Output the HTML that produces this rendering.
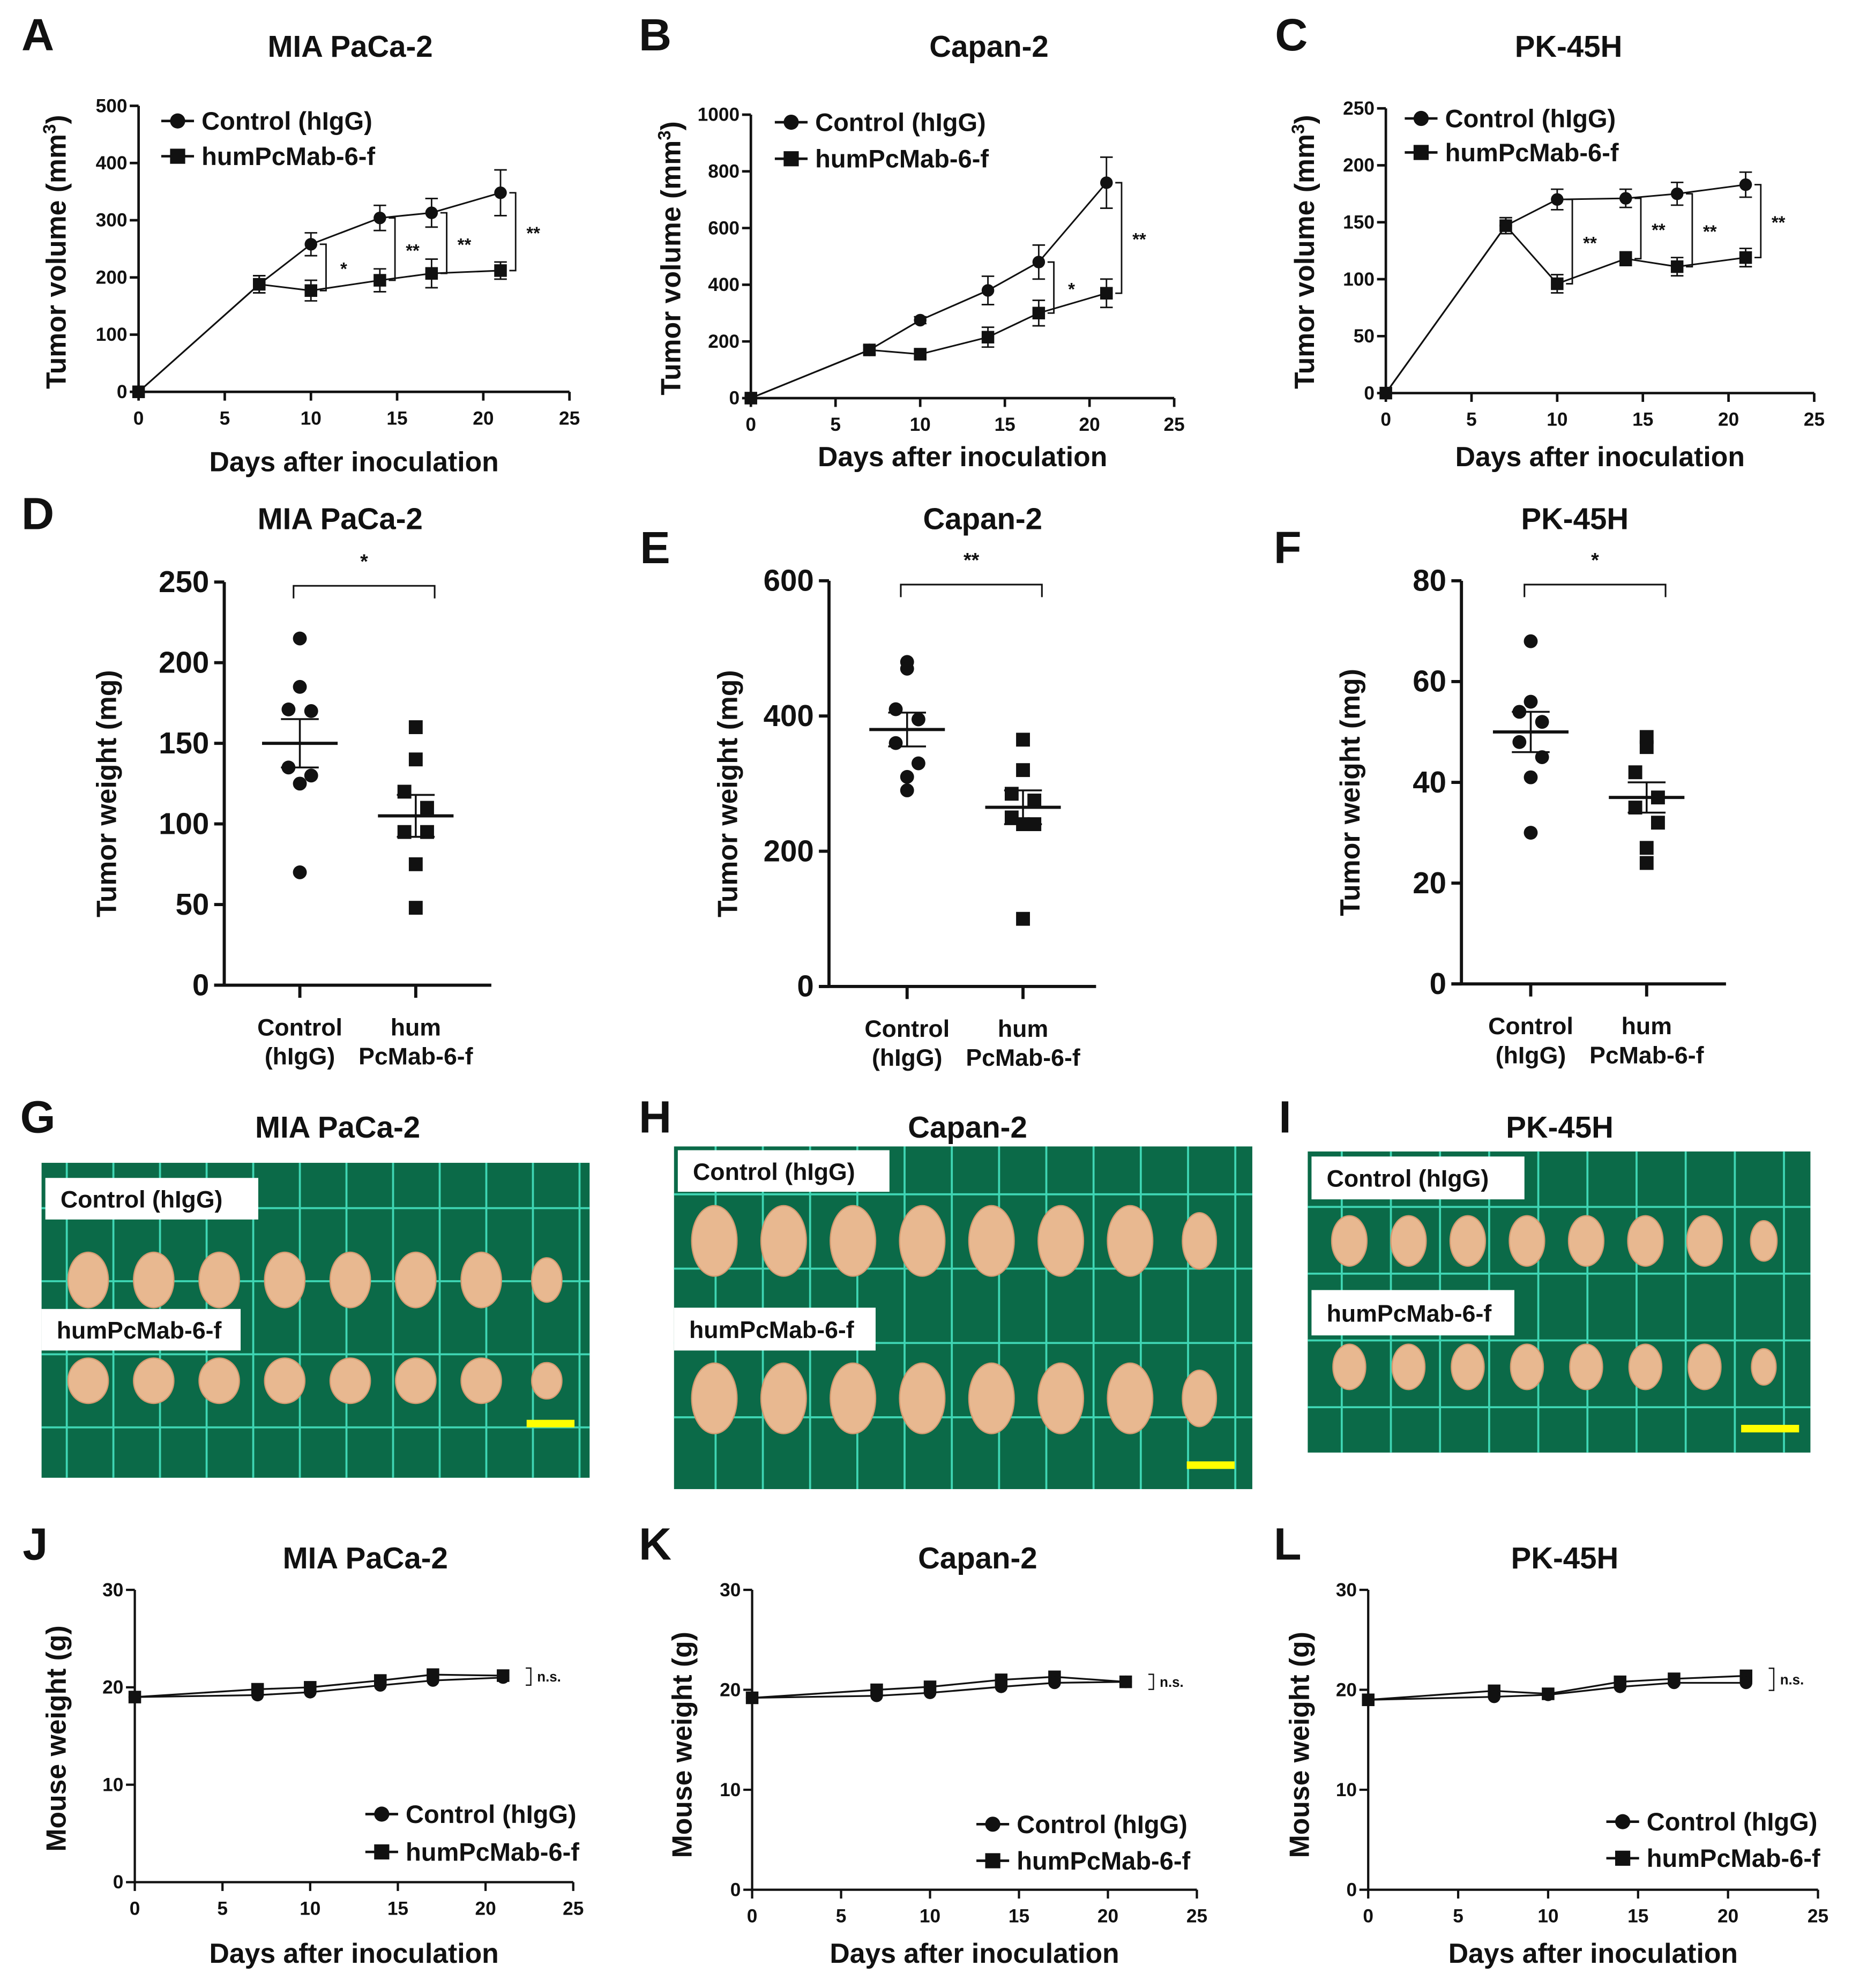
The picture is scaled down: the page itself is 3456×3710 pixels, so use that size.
<!DOCTYPE html>
<html><head><meta charset="utf-8"><style>
html,body{margin:0;padding:0;background:#fff}
svg{display:block}
text{font-family:"Liberation Sans Narrow","Liberation Sans",sans-serif;font-weight:bold;fill:#111}
</style></head><body>
<svg id="fig" xmlns="http://www.w3.org/2000/svg" width="3456" height="3710" viewBox="0 0 1470 1578">
<rect x="0" y="0" width="1470" height="1578" fill="#fff"/>
</svg>
<script>
// ---- data ----
const days = [0, 7, 10, 14, 17, 21];
const volTicksA = [0,100,200,300,400,500];
const volTicksB = [0,200,400,600,800,1000];
const volTicksC = [0,50,100,150,200,250];
const dayTicks = [0,5,10,15,20,25];
const aCtrl = [0,188,258,304,313,348];
const aCtrlErr = [0,15,20,22,25,40];
const aTrt = [0,188,177,195,207,212];
const aTrtErr = [0,15,18,20,25,15];
const aSig = [[10,"*"],[14,"**"],[17,"**"],[21,"**"]];
const bCtrl = [0,170,275,380,480,760];
const bCtrlErr = [0,15,12,50,60,90];
const bTrt = [0,170,155,215,300,370];
const bTrtErr = [0,15,12,35,45,50];
const bSig = [[17,"*"],[21,"**"]];
const cCtrl = [0,147,170,171,175,183];
const cCtrlErr = [0,7,9,8,10,11];
const cTrt = [0,147,96,118,111,119];
const cTrtErr = [0,7,8,6,8,8];
const cSig = [[10,"**"],[14,"**"],[17,"**"],[21,"**"]];
const dCtrl = [215,185,171,170,135,130,125,70];
const dTrt = [160,140,120,110,95,95,75,48];
const dMean = [150,105]; const dSem = [15,13];
const eCtrl = [480,470,410,395,360,330,310,290];
const eTrt = [365,320,285,275,250,240,240,100];
const eMean = [380,265]; const eSem = [25,25];
const fCtrl = [68,56,54,52,48,45,41,30];
const fTrt = [49,47,42,37,35,32,27,24];
const fMean = [50,37]; const fSem = [4,3];
const wTicks = [0,10,20,30];
const jCtrl = [19,19.2,19.5,20.2,20.7,21];
const jTrt = [19,19.8,20,20.7,21.3,21.2];
const kCtrl = [19.2,19.4,19.7,20.3,20.7,20.8];
const kTrt = [19.2,20,20.3,21,21.3,20.8];
const lCtrl = [19,19.3,19.5,20.3,20.7,20.7];
const lTrt = [19,19.9,19.6,20.8,21.1,21.4];

const svg = document.getElementById('fig');
const NS = 'http://www.w3.org/2000/svg';
function mk(tag, at, parent){const e=document.createElementNS(NS,tag);for(const k in at)e.setAttribute(k,at[k]);(parent||svg).appendChild(e);return e;}
function txt(s, x, y, size, anchor, parent, extra){const t=mk('text',Object.assign({x:x,y:y,'font-size':size,'text-anchor':anchor||'middle'},extra||{}),parent);t.textContent=s;return t;}
function grp(name){const g=mk('g',{});return g;}

function letter(s,x,y){const t=txt(s,x,y,36,'middle');}
function title(s,x,y){const t=txt(s,x,y,24,'middle');}

function marker(g,type,x,y,s){
  if(type==='c') return mk('circle',{cx:x,cy:y,r:s,fill:'#111'},g);
  return mk('rect',{x:x-s,y:y-s,width:2*s,height:2*s,fill:'#111'},g);
}

function lineChart(o){
  const g=grp(o.name);
  const X=v=>o.x0+(v/25)*(o.x1-o.x0);
  const Y=v=>o.y0-(v/o.ymax)*(o.y0-o.y1);
  const aw=o.aw||2;
  mk('line',{x1:o.x0,y1:o.y0,x2:o.x0,y2:o.y1,stroke:'#111','stroke-width':aw},g);
  mk('line',{x1:o.x0,y1:o.y0,x2:o.x1,y2:o.y0,stroke:'#111','stroke-width':aw},g);
  o.yt.forEach(v=>{mk('line',{x1:o.x0-7,y1:Y(v),x2:o.x0,y2:Y(v),stroke:'#111','stroke-width':aw},g);
    const t=txt(String(v),o.x0-9,Y(v)+5,o.tfs||15,'end',g);});
  dayTicks.forEach(v=>{mk('line',{x1:X(v),y1:o.y0,x2:X(v),y2:o.y0+7,stroke:'#111','stroke-width':aw},g);
    const t=txt(String(v),X(v),o.y0+26,o.tfs||15,'middle',g);});
  const xl=txt('Days after inoculation',(o.x0+o.x1)/2,o.xly,22,'middle',g);
  const yl=txt(o.ylab,0,0,22,'middle',g,{transform:`translate(${o.ylx},${o.yly}) rotate(-90)`});
  if(o.sup){yl.textContent='';yl.appendChild(document.createTextNode(o.ylab));const ts=document.createElementNS(NS,'tspan');ts.setAttribute('dy','-8');ts.setAttribute('font-size','14');ts.textContent='3';yl.appendChild(ts);const t2=document.createElementNS(NS,'tspan');t2.setAttribute('dy','8');t2.textContent=')';yl.appendChild(t2);}
  [[o.trt,o.trtE,'s'],[o.ctrl,o.ctrlE,'c']].forEach(([d,e,type])=>{
    const p=mk('polyline',{points:days.map((v,i)=>X(v)+','+Y(d[i])).join(' '),fill:'none',stroke:'#111','stroke-width':o.lw||1.3},g);
    
    days.forEach((v,i)=>{
      if(e&&e[i]){mk('path',{d:`M${X(v)},${Y(d[i]-e[i])}V${Y(d[i]+e[i])}M${X(v)-5},${Y(d[i]-e[i])}h10M${X(v)-5},${Y(d[i]+e[i])}h10`,stroke:'#111','stroke-width':1.2,fill:'none'},g);}
      const m=marker(g,type,X(v),Y(d[i]),o.ms||5);
      
      
    });
  });
  (o.sig||[]).forEach(([dd,lab])=>{const i=days.indexOf(dd);const bx=X(dd)+12;
    const ya=Y(o.ctrl[i]+(dd===21?0:0)),yb=Y(o.trt[i]);
    mk('path',{d:`M${bx-5},${ya}H${bx}V${yb}H${bx-5}`,stroke:'#111','stroke-width':1.2,fill:'none'},g);
    const t=txt(lab,bx+14,(ya+yb)/2+6,14,'middle',g);});
  if(o.ns){const i=5;const bx=X(21)+18;const ya=Y(o.trt[i])-6,yb=Y(o.ctrl[i])+6;
    mk('path',{d:`M${bx},${ya}H${bx+4}V${yb}H${bx}`,stroke:'#111','stroke-width':1,fill:'none'},g);
    const t=txt('n.s.',bx+9,(ya+yb)/2+4,11,'start',g);}
  // legend
  const L=o.leg;
  [['c','Control (hIgG)',L.y1],['s','humPcMab-6-f',L.y2]].forEach(([type,s,yy])=>{
    const lg=mk('g',{},g);
    mk('line',{x1:L.x,y1:yy,x2:L.x+26,y2:yy,stroke:'#111','stroke-width':2},lg);
    marker(lg,type,L.x+13,yy,6);
    txt(s,L.x+32,yy+7,L.fs||20,'start',lg);
  });
}

function scatter(o){
  const g=grp(o.name);
  const Y=v=>o.y0-(v/o.ymax)*(o.y0-o.y1);
  mk('line',{x1:o.x0,y1:o.y0+1,x2:o.x0,y2:o.y1,stroke:'#111','stroke-width':2.5},g);
  mk('line',{x1:o.x0-8,y1:o.y0,x2:o.x1,y2:o.y0,stroke:'#111','stroke-width':2.5},g);
  o.yt.forEach(v=>{mk('line',{x1:o.x0-8,y1:Y(v),x2:o.x0,y2:Y(v),stroke:'#111','stroke-width':2.5},g);
    const t=txt(String(v),o.x0-12,Y(v)+8,24,'end',g);});
  const yl=txt('Tumor weight (mg)',0,0,22,'middle',g,{transform:`translate(${o.ylx},${(o.y0+o.y1)/2+8}) rotate(-90)`});
  const jit=[0,0,-10,10,-10,10,0,0];
  [[o.ctrl,o.cx,'c',0],[o.trt,o.tx,'s',1]].forEach(([d,cx,type,k])=>{
    mk('line',{x1:cx,y1:o.y0,x2:cx,y2:o.y0+10,stroke:'#111','stroke-width':2.5},g);
    d.forEach((v,i)=>{const m=marker(g,type,cx+jit[i]*0.9,Y(v),5.5);});
    const mn=o.mean[k],se=o.sem[k];
    mk('line',{x1:cx-30,y1:Y(mn),x2:cx+30,y2:Y(mn),stroke:'#111','stroke-width':2.5},g);
    mk('path',{d:`M${cx},${Y(mn-se)}V${Y(mn+se)}M${cx-15},${Y(mn-se)}h30M${cx-15},${Y(mn+se)}h30`,stroke:'#111','stroke-width':1.5,fill:'none'},g);
  });
  const by=o.y1+3;
  mk('path',{d:`M${o.cx-5},${by+10}V${by}H${o.tx+15}V${by+10}`,stroke:'#111','stroke-width':1.3,fill:'none'},g);
  const st=txt(o.sig,(o.cx+o.tx)/2+5,by-14,16,'middle',g);
  [['Control',o.cx,'(hIgG)'],['hum',o.tx,'PcMab-6-f']].forEach(([a,x,b])=>{
    const t1=txt(a,x,o.y0+40,19,'middle',g);
    const t2=txt(b,x,o.y0+63,19,'middle',g);
  });
}

function photo(o){
  const g=grp(o.name);
  mk('rect',{x:o.x,y:o.y,width:o.w,height:o.h,fill:'#0b6a48'},g);
  for(let x=o.gx;x<o.x+o.w;x+=o.sx) mk('line',{x1:x,y1:o.y,x2:x,y2:o.y+o.h,stroke:'#3fd6b4','stroke-width':1.6},g);
  for(let y=o.gy;y<o.y+o.h;y+=o.sy) mk('line',{x1:o.x,y1:y,x2:o.x+o.w,y2:y,stroke:'#3fd6b4','stroke-width':1.6},g);
  o.rows.forEach(r=>{for(let i=0;i<8;i++){const cx=o.tx0+i*o.tdx;const e=mk('ellipse',{cx:cx,cy:r.y,rx:r.rx*(i===7?0.75:1),ry:r.ry*(i===7?0.8:1),fill:'#e8b890',stroke:'#d49a70','stroke-width':1},g);}});
  o.boxes.forEach(b=>{const bg=mk('g',{},g);
    mk('rect',{x:b.x,y:b.y,width:b.w,height:b.h,fill:'#fff'},bg);txt(b.t,b.x+12,b.y+b.h/2+7,19,'start',bg);});
  mk('rect',{x:o.bar[0],y:o.bar[1],width:o.bar[2],height:6,fill:'#ffff00'},g);
}

// Row 1
letter('A',30,40);title('MIA PaCa-2',278,45);
lineChart({name:'chart-a',x0:110,x1:452,y0:311,y1:84,ymax:500,yt:volTicksA,ctrl:aCtrl,ctrlE:aCtrlErr,trt:aTrt,trtE:aTrtErr,sig:aSig,ylab:'Tumor volume (mm',sup:true,ylx:52,yly:200,xly:374,leg:{x:128,y1:96,y2:124}});
letter('B',520,40);title('Capan-2',785,45);
lineChart({name:'chart-b',x0:596,x1:932,y0:316,y1:91,ymax:1000,yt:volTicksB,ctrl:bCtrl,ctrlE:bCtrlErr,trt:bTrt,trtE:bTrtErr,sig:bSig,ylab:'Tumor volume (mm',sup:true,ylx:540,yly:205,xly:370,leg:{x:615,y1:97,y2:126}});
letter('C',1025,40);title('PK-45H',1245,45);
lineChart({name:'chart-c',x0:1100,x1:1440,y0:312,y1:86,ymax:250,yt:volTicksC,ctrl:cCtrl,ctrlE:cCtrlErr,trt:cTrt,trtE:cTrtErr,sig:cSig,ylab:'Tumor volume (mm',sup:true,ylx:1043,yly:200,xly:370,leg:{x:1115,y1:94,y2:121}});
// Row 2
letter('D',30,420);title('MIA PaCa-2',270,420);
scatter({name:'chart-d',x0:178,x1:390,y0:782,y1:462,ymax:250,yt:[0,50,100,150,200,250],ctrl:dCtrl,trt:dTrt,mean:dMean,sem:dSem,cx:238,tx:330,sig:'*',ylx:92});
letter('E',520,447);title('Capan-2',780,420);
scatter({name:'chart-e',x0:658,x1:870,y0:783,y1:461,ymax:600,yt:[0,200,400,600],ctrl:eCtrl,trt:eTrt,mean:eMean,sem:eSem,cx:720,tx:812,sig:'**',ylx:585});
letter('F',1022,447);title('PK-45H',1250,420);
scatter({name:'chart-f',x0:1160,x1:1370,y0:781,y1:461,ymax:80,yt:[0,20,40,60,80],ctrl:fCtrl,trt:fTrt,mean:fMean,sem:fSem,cx:1215,tx:1307,sig:'*',ylx:1079});
// Row 3
letter('G',30,899);title('MIA PaCa-2',268,903);
photo({name:'photo-g',x:33,y:923,w:435,h:250,gx:53,sx:37,gy:959,sy:58,tx0:70,tdx:52,rows:[{y:1016,rx:16,ry:22},{y:1096,rx:16,ry:18}],boxes:[{x:36,y:935,w:169,h:33,t:'Control (hIgG)'},{x:33,y:1039,w:158,h:33,t:'humPcMab-6-f'}],bar:[418,1127,38]});
letter('H',520,899);title('Capan-2',768,903);
photo({name:'photo-h',x:535,y:910,w:459,h:272,gx:568,sx:37.5,gy:948,sy:59,tx0:567,tdx:55,rows:[{y:985,rx:18,ry:28},{y:1110,rx:18,ry:28}],boxes:[{x:538,y:913,w:168,h:33,t:'Control (hIgG)'},{x:535,y:1038,w:160,h:34,t:'humPcMab-6-f'}],bar:[942,1160,38]});
letter('I',1020,899);title('PK-45H',1238,903);
photo({name:'photo-i',x:1038,y:914,w:399,h:239,gx:1065,sx:39,gy:958,sy:53,tx0:1071,tdx:47,rows:[{y:985,rx:14,ry:20},{y:1085,rx:13,ry:18}],boxes:[{x:1041,y:918,w:169,h:34,t:'Control (hIgG)'},{x:1041,y:1024,w:161,h:36,t:'humPcMab-6-f'}],bar:[1382,1131,46]});
// Row 4
letter('J',28,1238);title('MIA PaCa-2',290,1245);
lineChart({name:'chart-j',x0:107,x1:455,y0:1494,y1:1262,ymax:30,yt:wTicks,ctrl:jCtrl,trt:jTrt,ns:true,aw:1.8,lw:1.4,ylab:'Mouse weight (g)',ylx:52,yly:1380,xly:1558,leg:{x:290,y1:1440,y2:1470}});
letter('K',520,1238);title('Capan-2',776,1245);
lineChart({name:'chart-k',x0:597,x1:950,y0:1500,y1:1262,ymax:30,yt:wTicks,ctrl:kCtrl,trt:kTrt,ns:true,aw:1.8,lw:1.4,ylab:'Mouse weight (g)',ylx:549,yly:1385,xly:1558,leg:{x:775,y1:1448,y2:1477}});
letter('L',1022,1238);title('PK-45H',1242,1245);
lineChart({name:'chart-l',x0:1086,x1:1443,y0:1500,y1:1262,ymax:30,yt:wTicks,ctrl:lCtrl,trt:lTrt,ns:true,aw:1.8,lw:1.4,ylab:'Mouse weight (g)',ylx:1039,yly:1385,xly:1558,leg:{x:1275,y1:1446,y2:1475}});
</script>
</body></html>
